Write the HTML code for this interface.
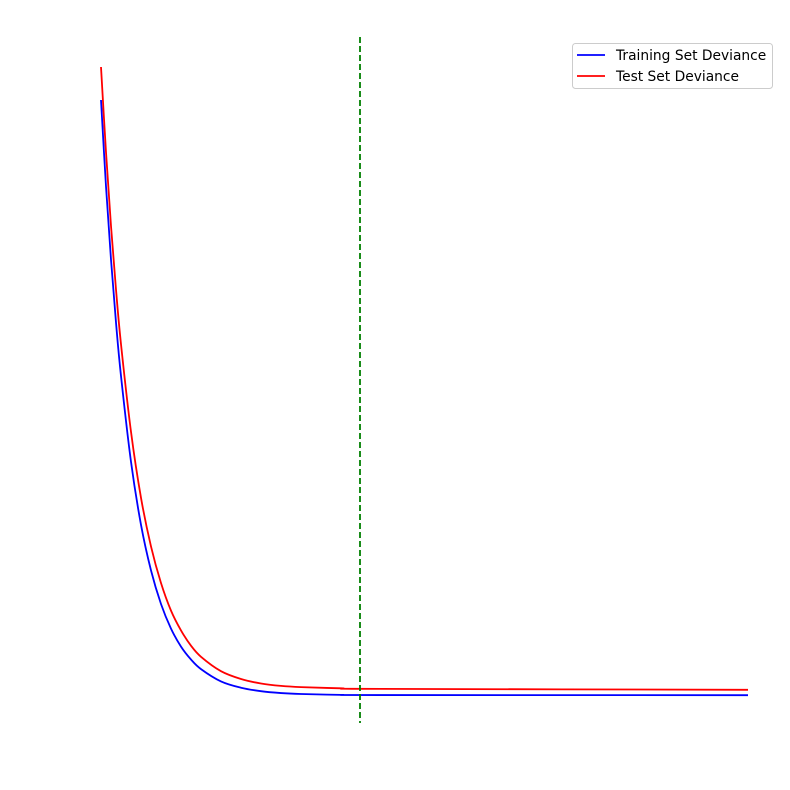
<!DOCTYPE html>
<html><head><meta charset="utf-8"><style>
body{margin:0;background:#fff}
svg{display:block;font-family:"DejaVu Sans","Liberation Sans",sans-serif}
</style></head><body>
<svg id="chart" width="790" height="790">
<g id="plot"></g>
<g>
<rect x="572.5" y="43.5" width="200" height="45" rx="3" fill="#fff" fill-opacity="0.8" stroke="#ccc"/>
<line x1="577" y1="55" x2="605" y2="55" stroke="#0000ff" stroke-width="1.8"/>
<text x="616" y="60" font-size="13.8">Training Set Deviance</text>
<line x1="577" y1="76" x2="605" y2="76" stroke="#ff0000" stroke-width="1.8"/>
<text x="616" y="81" font-size="13.8">Test Set Deviance</text>
</g>
</svg>
<script>
const iters=[0,5,10,15,20,30,40,50,60,70,80,90,100,120,140,160,180,200,240,280,647];
const trainY=[100,85.6,73.4,62.9,54.0,39.7,29.2,21.6,16.0,11.9,8.9,6.75,5.15,3.1,2.05,1.47,1.16,1.0,0.86,0.82,0.8];
const testY=[105.5,91.3,79.0,68.4,59.3,44.7,33.7,25.6,19.5,14.9,11.6,9.05,7.2,4.8,3.5,2.75,2.35,2.15,1.95,1.85,1.7];
const bestIter=[259];
const xs=v=>101+v*(748-101)/647;
const ys=v=>700-v*6;
const g=document.getElementById('plot');
const NS='http://www.w3.org/2000/svg';
function line(X,Y,color,name){
  const P=X.map((x,i)=>[xs(x),ys(Y[i])]);
  let d='M'+P[0][0]+','+P[0][1];
  for(let i=0;i<P.length-1;i++){
    const p0=P[Math.max(0,i-1)],p1=P[i],p2=P[i+1],p3=P[Math.min(P.length-1,i+2)];
    let c1=[p1[0]+(p2[0]-p0[0])/6,p1[1]+(p2[1]-p0[1])/6];
    let c2=[p2[0]-(p3[0]-p1[0])/6,p2[1]-(p3[1]-p1[1])/6];
    if(i===P.length-2){c1=[p1[0]+(p2[0]-p1[0])/3,p1[1]];c2=[p2[0]-(p2[0]-p1[0])/3,p2[1]];}
    d+=' C'+c1+' '+c2+' '+p2;
  }
  const p=document.createElementNS(NS,'path');
  p.setAttribute('d',d);
  p.setAttribute('fill','none');p.setAttribute('stroke',color);p.setAttribute('stroke-width','1.8');
  
  
  g.appendChild(p);
}
line(iters,trainY,'#0000ff','training-deviance-line');
line(iters,testY,'#ff0000','test-deviance-line');
const v=document.createElementNS(NS,'line');
v.setAttribute('x1',xs(bestIter[0]));v.setAttribute('x2',xs(bestIter[0]));
v.setAttribute('y1',37);v.setAttribute('y2',723);
v.setAttribute('stroke','#008000');v.setAttribute('stroke-width','1.8');v.setAttribute('stroke-dasharray','6,3');


g.appendChild(v);
</script>
</body></html>
